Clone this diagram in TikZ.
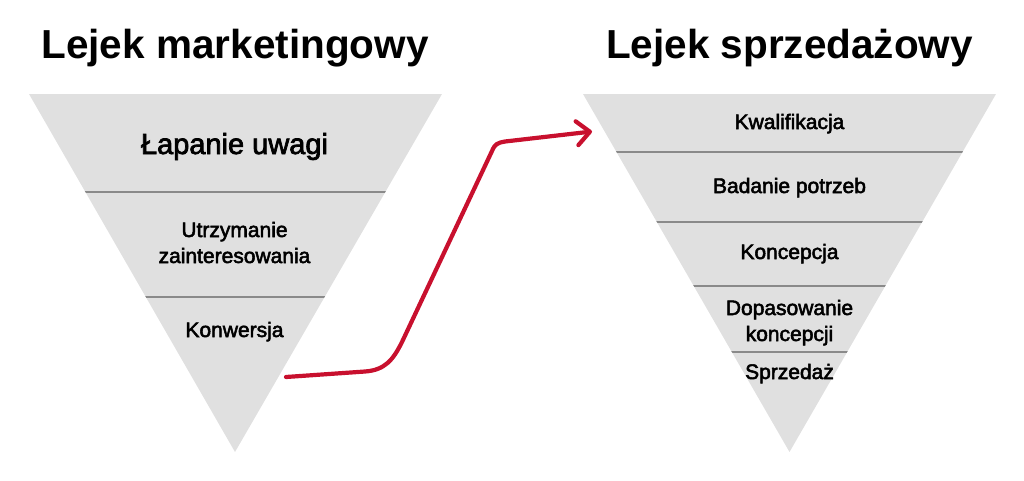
\documentclass[tikz,border=0pt]{standalone}
\usepackage{fontspec}
\setmainfont{Liberation Sans}
\newfontfamily\labelfont{Liberation Sans}[FakeBold=2.5]
\usetikzlibrary{arrows.meta}
\definecolor{funnelgray}{HTML}{E0E0E0}
\definecolor{divgray}{HTML}{8A8A8A}
\definecolor{arrowred}{HTML}{C8102E}
\tikzset{
  funnel/.style={fill=funnelgray},
  divider/.style={draw=divgray, line width=1.2pt},
  title/.style={font=\fontsize{40.5}{46}\selectfont\bfseries, inner sep=0pt, anchor=base},
  biglabel/.style={font=\labelfont\fontsize{29}{34}\selectfont, inner sep=0pt, anchor=base},
  label/.style={font=\labelfont\fontsize{21}{26}\selectfont, inner sep=0pt, anchor=base, align=center},
  flow/.style={draw=arrowred, line width=4.2pt, line cap=round, line join=round,
    -{Straight Barb[length=13pt,width=24pt,round]}}
}
\begin{document}
\begin{tikzpicture}[x=1pt,y=-1pt]
\useasboundingbox (0,0) rectangle (1024,480);
% titles
\node[title] (t1) at (235,58) {Lejek marketingowy};
\node[title] (t2) at (789.5,58) {Lejek sprzedażowy};
% left funnel
\fill[funnel] (29,94) -- (442,94) -- (235,452) -- cycle;
\begin{scope}
  \clip (29,94) -- (442,94) -- (235,452) -- cycle;
  \draw[divider] (0,192) -- (480,192);
  \draw[divider] (0,297) -- (480,297);
\end{scope}
% right funnel
\fill[funnel] (583,94) -- (996,94) -- (789.5,452) -- cycle;
\begin{scope}
  \clip (583,94) -- (996,94) -- (789.5,452) -- cycle;
  \draw[divider] (560,152) -- (1020,152);
  \draw[divider] (560,222) -- (1020,222);
  \draw[divider] (560,286) -- (1020,286);
  \draw[divider] (560,352) -- (1020,352);
\end{scope}
% left labels
\node[biglabel] (l1) at (234.5,154) {Łapanie uwagi};
\node[label] (l2) at (234.5,263) {Utrzymanie\\zainteresowania};
\node[label] (l3) at (234.5,337) {Konwersja};
% right labels
\node[label] (r1) at (789.5,129) {Kwalifikacja};
\node[label] (r2) at (789.5,193) {Badanie potrzeb};
\node[label] (r3) at (789.5,259) {Koncepcja};
\node[label] (r4) at (789.5,341) {Dopasowanie\\koncepcji};
\node[label] (r5) at (789.5,379) {Sprzedaż};
% arrow
\coordinate (from) at (286,377);
\coordinate (to) at (592,131.5);
\draw[flow] (from) -- (365,371.5) .. controls (385,370) and (393,360) .. (402,342)
  -- (492,151) .. controls (495,144) and (497,143) .. (505,141.5) -- (to);
\end{tikzpicture}
\end{document}
